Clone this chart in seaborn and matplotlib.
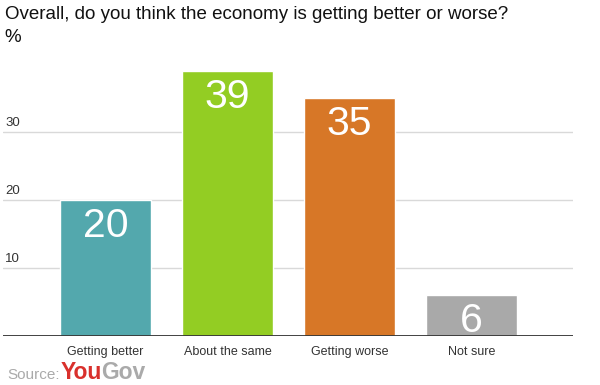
import matplotlib
matplotlib.use("Agg")
import matplotlib.pyplot as plt
import matplotlib.transforms as mtransforms
import seaborn as sns
import pandas as pd

# ── Data ──────────────────────────────────────────────────
categories = ["Getting better", "About the same", "Getting worse", "Not sure"]
values = [20, 39, 35, 6]
colors = ["#53A8AD", "#93CD23", "#D77727", "#A9A9A9"]
yticks = [10, 20, 30]

title = "Overall, do you think the economy is getting better or worse?"

sns.set_style("white")
plt.rcParams["font.family"] = ["Liberation Sans", "DejaVu Sans"]

df = pd.DataFrame({"answer": categories, "pct": values})

fig = plt.figure(figsize=(6, 3.85), dpi=100)
ax = fig.add_axes([0.005, 0.1273, 0.95, 0.7065])

sns.barplot(data=df, x="answer", y="pct", hue="answer", palette=colors,
            width=0.746, saturation=1, legend=False, ax=ax)

ax.set_xlim(-0.84, 3.832)
ax.set_ylim(0, 40)

# gridlines + baseline
for t in yticks:
    ax.axhline(t, color="#D9D9D9", linewidth=1, zorder=0)
ax.axhline(0, color="#333333", linewidth=1.3, zorder=3)

for s in ax.spines.values():
    s.set_visible(False)
ax.set_yticks([])
ax.set_xlabel("")
ax.set_ylabel("")
ax.tick_params(axis="x", length=0, pad=7, labelsize=9, labelcolor="#333333")

# y labels sit above the gridline at the left edge
trans = mtransforms.blended_transform_factory(ax.transAxes, ax.transData)
for t in yticks:
    ax.text(0.004, t + 0.5, str(t), transform=trans, ha="left", va="bottom",
            fontsize=9.5, color="#333333")

# value labels inside the bars
for i, v in enumerate(values):
    ax.text(i, v - 1.0, str(v), ha="center", va="top", fontsize=29.5,
            color="white", zorder=4)

fig.text(0.008, 0.962, title, ha="left", va="center", fontsize=13.5, color="#111111")
fig.text(0.008, 0.902, "%", ha="left", va="center", fontsize=13.5, color="#111111")

# source line: place "You" and "Gov" right after each other
r = fig.canvas.get_renderer()
src = fig.text(0.012, 0.026, "Source:", ha="left", va="center", fontsize=11, color="#AAAAAA")
x = src.get_window_extent(r).x1 / fig.bbox.width + 0.002
you = fig.text(x, 0.032, "You", ha="left", va="center", fontsize=16.5, color="#D9302C",
               fontweight="bold")
x = you.get_window_extent(r).x1 / fig.bbox.width - 0.002
fig.text(x, 0.032, "Gov", ha="left", va="center", fontsize=16.5, color="#AAAAAA",
         fontweight="bold")

plt.savefig("out.png", dpi=100)
plt.close()
